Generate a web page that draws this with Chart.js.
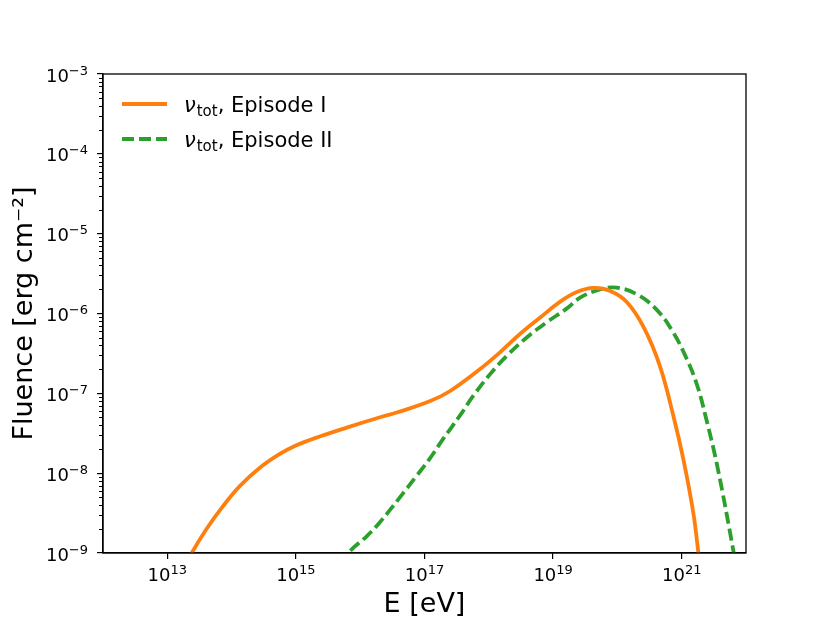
<!DOCTYPE html>
<html>
<head>
<meta charset="utf-8">
<script src="https://cdn.jsdelivr.net/npm/chart.js@4/dist/chart.umd.min.js"></script>
<style>
  html, body { margin: 0; padding: 0; background: #fff; }
  canvas { display: block; }
</style>
</head>
<body>
<canvas id="myChart" width="830" height="623"></canvas>
<script>
// energies [eV] and fluences [erg cm^-2]
var episode1E = [1.58e13, 2.40e13, 4.07e13, 7.41e13, 1.35e14, 2.75e14, 5.62e14, 1.02e15, 2.34e15, 6.17e15,
                 2.04e16, 3.72e16, 1.20e17, 2.51e17, 7.24e17, 1.48e18, 3.02e18, 6.31e18, 1.29e19,
                 2.34e19, 4.27e19, 7.76e19, 1.41e20, 2.57e20, 4.57e20, 7.41e20, 1.07e21, 1.51e21, 1.82e21,
                 2.09e21];
var episode1F = [5.25e-10, 1.0e-9, 2.0e-9, 3.89e-9, 6.92e-9, 1.17e-8, 1.74e-8, 2.24e-8, 2.88e-8, 3.72e-8,
                 5.01e-8, 5.75e-8, 7.94e-8, 1.07e-7, 2.0e-7, 3.24e-7, 5.50e-7, 8.91e-7, 1.41e-6,
                 1.86e-6, 2.09e-6, 1.91e-6, 1.38e-6, 6.68e-7, 2.21e-7, 5.25e-8, 1.45e-8, 3.24e-9, 1.0e-9,
                 4.0e-10];

var episode2E = [5.01e15, 6.92e15, 1.26e16, 2.04e16, 4.17e16, 7.59e16, 1.20e17, 1.95e17, 3.55e17, 5.75e17,
                 1.05e18, 1.91e18, 3.89e18, 7.94e18, 1.62e19, 2.63e19, 5.37e19, 9.77e19, 2.0e20, 4.07e20,
                 7.41e20, 1.20e21, 1.74e21, 2.34e21, 3.55e21, 6.46e21, 7.24e21];
var episode2F = [7.08e-10, 1.05e-9, 1.62e-9, 2.45e-9, 5.01e-9, 9.33e-9, 1.51e-8, 2.69e-8, 5.25e-8, 9.33e-8,
                 1.74e-7, 2.95e-7, 5.01e-7, 7.76e-7, 1.15e-6, 1.58e-6, 2.0e-6, 2.11e-6, 1.74e-6, 1.12e-6,
                 5.75e-7, 2.69e-7, 1.26e-7, 5.25e-8, 1.26e-8, 1.0e-9, 5.6e-10];

var xTicks = [1e13, 1e15, 1e17, 1e19, 1e21];
var xTickExp = ['13', '15', '17', '19', '21'];
var yTicks = [1e-9, 1e-8, 1e-7, 1e-6, 1e-5, 1e-4, 1e-3];
var yTickExp = ['\u22129', '\u22128', '\u22127', '\u22126', '\u22125', '\u22124', '\u22123'];

var legendNames = [', Episode I', ', Episode II'];
var colors = ['#ff7f0e', '#2ca02c'];

function toPoints(xs, ys) {
    return xs.map(function (x, i) { return { x: x, y: ys[i] }; });
}

var FONT = 'DejaVu Sans';

// draws "10" with a raised exponent, like matplotlib's log tick labels
function powerLabel(c, base, exp, x, y, align) {
    c.font = '18px ' + FONT;
    var wb = c.measureText(base).width;
    c.font = '13px ' + FONT;
    var we = c.measureText(exp).width;
    var left = align === 'right' ? x - wb - we : x - (wb + we) / 2;
    c.textAlign = 'left';
    c.textBaseline = 'alphabetic';
    c.font = '18px ' + FONT;
    c.fillText(base, left, y);
    c.font = '13px ' + FONT;
    c.fillText(exp, left + wb, y - 7);
}

// box around the axes, minor y ticks, tick labels and the legend inside the plot
var frame = {
    id: 'frame',
    afterDraw: function (chart) {
        var c = chart.ctx, a = chart.chartArea, xs = chart.scales.x, ys = chart.scales.y;
        c.save();
        c.strokeStyle = '#000';
        c.lineWidth = 1.3;
        c.strokeRect(a.left, a.top, a.right - a.left, a.bottom - a.top);

        c.lineWidth = 1;
        for (var d = -9; d < -3; d++) {
            for (var m = 2; m <= 9; m++) {
                var py = Math.round(ys.getPixelForValue(m * Math.pow(10, d))) + 0.5;
                c.beginPath();
                c.moveTo(a.left - 4, py);
                c.lineTo(a.left, py);
                c.stroke();
            }
        }

        c.fillStyle = '#000';
        xTicks.forEach(function (v, i) {
            powerLabel(c, '10', xTickExp[i], xs.getPixelForValue(v), a.bottom + 28, 'center');
        });
        yTicks.forEach(function (v, i) {
            powerLabel(c, '10', yTickExp[i], a.left - 15, ys.getPixelForValue(v) + 7.5, 'right');
        });

        var rows = [112, 147];
        chart.data.datasets.forEach(function (ds, i) {
            var ly = rows[i] - 8;
            c.strokeStyle = ds.borderColor;
            c.lineWidth = ds.borderWidth;
            c.setLineDash(ds.borderDash || []);
            c.beginPath();
            c.moveTo(122, ly);
            c.lineTo(167, ly);
            c.stroke();
            c.setLineDash([]);

            c.fillStyle = '#000';
            c.textBaseline = 'alphabetic';
            c.textAlign = 'left';
            var x = 184;
            c.font = 'italic 21px ' + FONT;
            c.fillText('\u03bd', x, rows[i]);
            x += c.measureText('\u03bd').width + 1;
            c.font = '15px ' + FONT;
            c.fillText('tot', x, rows[i] + 4);
            x += c.measureText('tot').width;
            c.font = '21px ' + FONT;
            c.fillText(legendNames[i], x, rows[i]);
        });
        c.restore();
    }
};

var ctx = document.getElementById('myChart').getContext('2d');
var myChart = new Chart(ctx, {
    type: 'line',
    data: {
        datasets: [{
            label: '\u03bd tot, Episode I',
            data: toPoints(episode1E, episode1F),
            borderColor: colors[0],
            borderWidth: 3.8,
            pointRadius: 0,
            fill: false,
            tension: 0.4
        }, {
            label: '\u03bd tot, Episode II',
            data: toPoints(episode2E, episode2F),
            borderColor: colors[1],
            borderWidth: 3.8,
            borderDash: [12, 5],
            pointRadius: 0,
            fill: false,
            tension: 0.4
        }]
    },
    options: {
        responsive: false,
        animation: false,
        devicePixelRatio: 1,
        layout: { padding: { top: 74, right: 84, left: 0, bottom: 0 } },
        plugins: {
            legend: { display: false },
            tooltip: { enabled: false }
        },
        scales: {
            x: {
                type: 'logarithmic',
                min: 1e12,
                max: 1e22,
                afterBuildTicks: function (s) { s.ticks = xTicks.map(function (v) { return { value: v }; }); },
                afterFit: function (s) { s.height = 70; },
                border: { display: true, color: '#000', width: 1.3 },
                grid: { drawOnChartArea: false, drawTicks: true, tickLength: 6, color: '#000', lineWidth: 1.2 },
                ticks: { display: false },
                title: {
                    display: true,
                    text: 'E [eV]',
                    color: '#000',
                    font: { family: FONT, size: 27 },
                    padding: { top: 0, bottom: 2 }
                }
            },
            y: {
                type: 'logarithmic',
                min: 1e-9,
                max: 1e-3,
                afterBuildTicks: function (s) { s.ticks = yTicks.map(function (v) { return { value: v }; }); },
                afterFit: function (s) { s.width = 103; },
                border: { display: true, color: '#000', width: 1.3 },
                grid: { drawOnChartArea: false, drawTicks: true, tickLength: 6, color: '#000', lineWidth: 1.2 },
                ticks: { display: false },
                title: {
                    display: true,
                    text: 'Fluence [erg cm\u207b\u00b2]',
                    color: '#000',
                    font: { family: FONT, size: 27 },
                    padding: { top: 9, bottom: 0 }
                }
            }
        }
    },
    plugins: [frame]
});
</script>
</body>
</html>
